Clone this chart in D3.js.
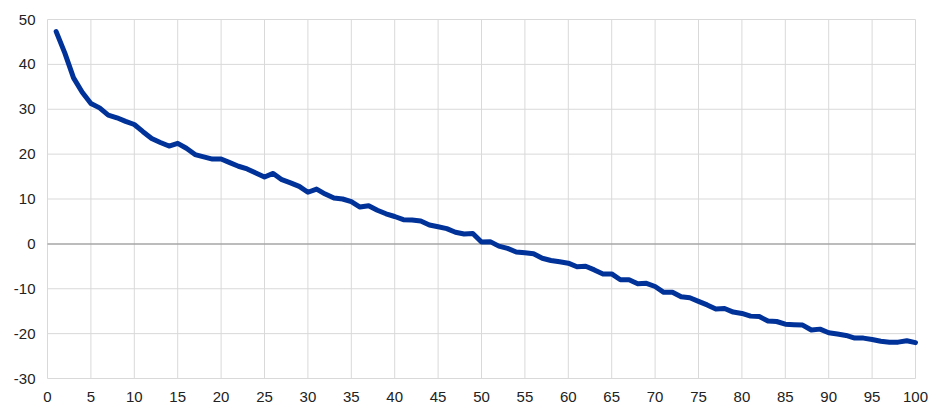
<!DOCTYPE html>
<html>
<head>
<meta charset="utf-8">
<script src="https://cdn.jsdelivr.net/npm/d3@7"></script>
<style>
  body { margin: 0; background: #fff; }
  text { font-family: "Liberation Sans", Arial, sans-serif; font-size: 15px; fill: #222; }
</style>
</head>
<body>
<svg id="chart" width="930" height="405"></svg>
<script>
const xValues = d3.range(1, 101);
const yValues = [
  47.3, 42.5, 37.0, 33.8, 31.3, 30.3, 28.7, 28.1, 27.3, 26.6,
  25.0, 23.5, 22.6, 21.8, 22.4, 21.3, 19.9, 19.4, 18.9, 18.9,
  18.1, 17.3, 16.7, 15.8, 14.9, 15.7, 14.3, 13.6, 12.8, 11.5,
  12.2, 11.1, 10.2, 10.0, 9.4, 8.2, 8.5, 7.5, 6.7, 6.1,
  5.4, 5.3, 5.1, 4.2, 3.8, 3.4, 2.6, 2.2, 2.3, 0.4,
  0.5, -0.5, -1.0, -1.8, -2.0, -2.2, -3.2, -3.7, -4.0, -4.3,
  -5.1, -5.0, -5.8, -6.7, -6.7, -8.0, -8.0, -8.9, -8.8, -9.5,
  -10.8, -10.8, -11.8, -12.0, -12.8, -13.6, -14.5, -14.4, -15.2, -15.5,
  -16.1, -16.2, -17.2, -17.3, -17.9, -18.0, -18.1, -19.2, -19.0, -19.8,
  -20.1, -20.4, -21.0, -21.0, -21.3, -21.7, -21.9, -21.9, -21.6, -22.0
];
const xTicks = d3.range(0, 101, 5);
const yTicks = d3.range(-30, 51, 10);

const svg = d3.select("#chart");
const margin = {left: 47.5, right: 14.5, top: 19.5, bottom: 26.5};
const width = 930, height = 405;

const x = d3.scaleLinear().domain([0, 100]).range([margin.left, width - margin.right]);
const y = d3.scaleLinear().domain([-30, 50]).range([height - margin.bottom, margin.top]);

// grid lines
svg.append("g").selectAll("line.v")
  .data(xTicks)
  .join("line")
  .attr("x1", d => x(d)).attr("x2", d => x(d))
  .attr("y1", y(50)).attr("y2", y(-30))
  .attr("stroke", "#d9d9d9").attr("stroke-width", 1);

svg.append("g").selectAll("line.h")
  .data(yTicks)
  .join("line")
  .attr("x1", x(0)).attr("x2", x(100))
  .attr("y1", d => y(d)).attr("y2", d => y(d))
  .attr("stroke", d => d === 0 ? "#a6a6a6" : "#d9d9d9")
  .attr("stroke-width", d => d === 0 ? 1.5 : 1);

// tick labels
svg.append("g").selectAll("text")
  .data(yTicks)
  .join("text")
  .attr("x", x(0) - 12)
  .attr("y", d => y(d) + 5)
  .attr("text-anchor", "end")
  .text(d => d);

svg.append("g").selectAll("text")
  .data(xTicks)
  .join("text")
  .attr("x", d => x(d))
  .attr("y", y(-30) + 23)
  .attr("text-anchor", "middle")
  .text(d => d);

// series line
const line = d3.line()
  .x((d, i) => x(xValues[i]))
  .y(d => y(d));

svg.append("path")
  .datum(yValues)
  .attr("d", line)
  .attr("fill", "none")
  .attr("stroke", "#003299")
  .attr("stroke-width", 5)
  .attr("stroke-linejoin", "round")
  .attr("stroke-linecap", "round");
</script>
</body>
</html>
